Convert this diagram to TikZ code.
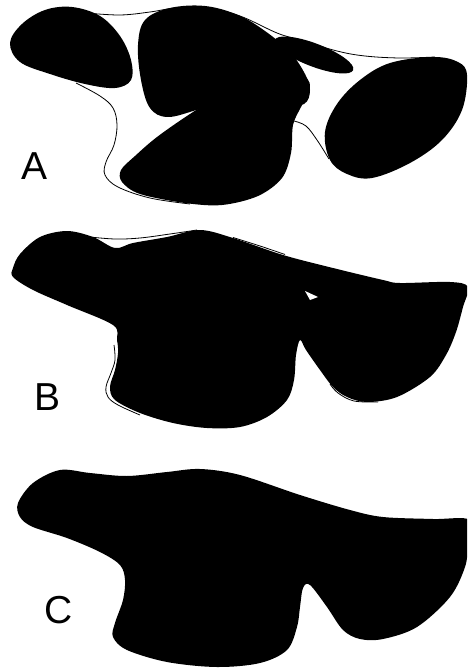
\documentclass[tikz,border=0pt]{standalone}
\usepackage{fontspec}
\setmainfont{Liberation Sans}
\begin{document}
\begin{tikzpicture}[x=1pt,y=-1pt,
  blob/.style={fill=black},
  contour/.style={draw=black,line width=0.8pt},
  panellabel/.style={font=\fontsize{39}{39}\selectfont,inner sep=0pt}]
\useasboundingbox (0,0) rectangle (467,668);
\clip (0,0) rectangle (467,668);
\fill[white] (0,0) rectangle (467,668);
% ---------------- Panel A ----------------
% contour lines
\draw[contour] plot[smooth,tension=0.6] coordinates {(86,13) (120,15) (150,12) (175,8) (205,7) (240,16) (277,33) (300,40) (337,51) (365,56) (400,58) (435,57)};
\draw[contour] plot[smooth,tension=0.6] coordinates {(76,83) (100,96) (113,108) (117,125) (114,145) (106,162) (105,175) (118,187) (150,198) (190,204)};
\draw[contour] plot[smooth,tension=0.6] coordinates {(294,121) (306,126) (317,140) (329,159)};
% A1
\fill[blob] plot[smooth cycle,tension=0.6] coordinates {(10,43) (22,24) (45,10) (72,7) (100,16) (120,36) (131,60) (131,80) (115,88) (85,84) (50,74) (20,62)};
% A2
\fill[blob] plot[smooth cycle,tension=0.6] coordinates {(138,45) (145,20) (170,8) (205,6) (238,15) (265,31) (290,52) (305,74) (310,90) (304,104) (280,106) (240,98) (200,109) (168,117) (150,108) (141,80)};
% A3
\fill[blob] plot[smooth cycle,tension=0.55] coordinates {(308,80) (309,92) (301,107) (293,125) (291,153) (282,178) (258,196) (222,205) (185,203) (140,194) (122,182) (121,170) (135,156) (157,137) (190,114) (223,94) (255,80) (290,70)};
% A4
\fill[blob,rotate around={-21:(314,55)}] (314,55) ellipse [x radius=42pt, y radius=11.5pt];
% A5
\fill[blob] plot[smooth cycle,tension=0.6] coordinates {(433,57) (458,62) (467,75) (462,110) (442,140) (410,163) (372,178) (347,174) (330,160) (325,132) (337,104) (360,80) (390,63)};
\node[panellabel] (labA) at (35,166) {A};
% ---------------- Panel B ----------------
\draw[contour] plot[smooth,tension=0.6] coordinates {(90,237) (115,239) (140,238) (170,234) (197,230)};
\draw[contour] plot[smooth,tension=0.6] coordinates {(233,237.5) (260,246) (285,254.5)};
\draw[contour] plot[smooth,tension=0.6] coordinates {(114,345) (115,360) (111,373) (106,387) (108,397) (118,405) (140,415)};
\draw[contour] plot[smooth,tension=0.6] coordinates {(330,384) (338,393) (354,401) (378,402)};
\fill[blob] plot[smooth cycle,tension=0.55] coordinates {(13,268) (20,254) (40,237) (67,231) (93,237) (115,248) (133,243) (167,237) (200,230) (233,238) (283,255) (333,268) (383,280) (400,283) (450,282) (468,287) (463,307) (456,332) (446,355) (430,377) (397,397) (367,402) (347,397) (333,387) (320,370) (306,350) (300,340) (296,355) (294,380) (287,400) (267,417) (240,427) (207,428) (173,423) (140,413) (115,400) (110,387) (115,370) (118,353) (117,340) (113,325) (67,305) (33,290) (13,277)};
\fill[white] (305,291) -- (318,297) -- (310,300) -- cycle;
\node[panellabel] (labB) at (47.5,397.5) {B};
% ---------------- Panel C ----------------
\fill[blob] plot[smooth cycle,tension=0.55] coordinates {(18,503) (33,483) (60,470) (90,473) (127,476) (167,472) (200,469) (240,475) (300,495) (350,510) (383,517) (433,519) (470,520) (468,545) (465,567) (450,597) (417,627) (383,639) (360,639) (343,630) (327,607) (310,585) (303,588) (300,607) (297,627) (287,650) (260,663) (217,667) (167,662) (127,650) (113,637) (115,623) (123,600) (125,580) (120,565) (100,552) (67,538) (33,527) (20,517)};
\node[panellabel] (labC) at (59,610) {C};
\end{tikzpicture}
\end{document}
